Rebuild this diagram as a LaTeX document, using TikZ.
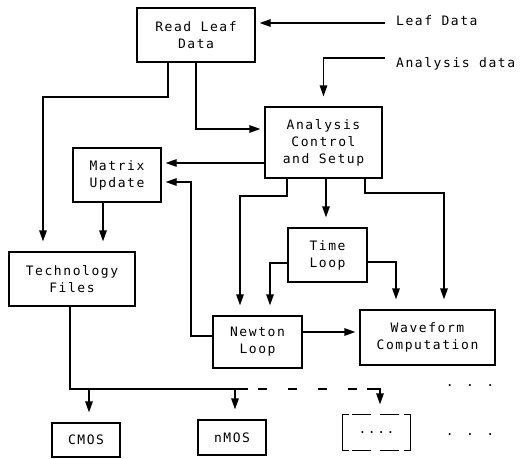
\documentclass[tikz,border=0pt]{standalone}
\usepackage{fontspec}
\newfontfamily\diafont[LetterSpace=12]{DejaVu Sans Mono}
\usetikzlibrary{arrows.meta}
\begin{document}
\begin{tikzpicture}[x=1pt,y=-1pt,
  txt/.style={font=\diafont\fontsize{13}{17}\selectfont, inner sep=0pt},
  box/.style={txt, draw, line width=1.3pt, align=center},
  ln/.style={line width=1.3pt},
  arrh/.style={ln, -{Triangle[length=11pt,width=7.5pt]}, shorten >=4pt},
  arrv/.style={ln, -{Triangle[length=11pt,width=7.5pt]}, shorten >=10pt}]
\useasboundingbox (0,0) rectangle (522,458);
% boxes
\node[box,minimum width=118pt,minimum height=54pt] (read) at (196,35) {Read Leaf\\Data};
\node[box,minimum width=117pt,minimum height=71pt] (anal) at (323.5,142.5) {Analysis\\Control\\and Setup};
\node[box,minimum width=88pt,minimum height=54pt] (matrix) at (117,175) {Matrix\\Update};
\node[box,minimum width=79pt,minimum height=54pt] (time) at (327.5,255) {Time\\Loop};
\node[box,minimum width=126pt,minimum height=54pt] (tech) at (72,279) {Technology\\Files};
\node[box,minimum width=89pt,minimum height=52pt] (newton) at (257.5,342) {Newton\\Loop};
\node[box,minimum width=135pt,minimum height=55pt] (wave) at (427.5,337.5) {Waveform\\Computation};
\node[box,minimum width=68pt,minimum height=34pt] (cmos) at (86,440) {CMOS};
\node[box,minimum width=68pt,minimum height=35pt] (nmos) at (232,437.5) {nMOS};
\node[box,draw=none,minimum width=67pt,minimum height=35pt] (etc) at (376.5,432.5) {....};
\draw[ln] ([xshift=7pt]etc.north west) -- (etc.north west) -- (etc.south west) -- ([xshift=7pt]etc.south west);
\draw[ln] ([xshift=-7pt]etc.north east) -- (etc.north east) -- (etc.south east) -- ([xshift=-7pt]etc.south east);
\draw[ln,dash pattern=on 19pt off 9pt] ([xshift=10pt]etc.north west) -- ([xshift=-10pt]etc.north east);
\draw[ln,dash pattern=on 19pt off 9pt] ([xshift=10pt]etc.south west) -- ([xshift=-10pt]etc.south east);
% labels
\node[txt,anchor=base west] (leaf) at (396,25) {Leaf Data};
\node[txt,anchor=base west] (adata) at (396,67) {Analysis data};
\node[txt,anchor=base] (dots1) at (470,386) {. . .};
\node[txt,anchor=base] (dots2) at (470,435) {. . .};
% coordinates
\coordinate (lf) at (385,23);
\coordinate (ad) at (385,58);
\coordinate (t1) at (168,97);
\coordinate (t2) at (43,97);
\coordinate (am) at (0,163);
\coordinate (nm1) at (191,336);
\coordinate (nm2) at (191,182);
\coordinate (mt) at (103,0);
\coordinate (an1) at (287,196);
\coordinate (an2) at (240,196);
\coordinate (at) at (326,0);
\coordinate (aw1) at (365,193);
\coordinate (aw2) at (444,193);
\coordinate (tn) at (270,263);
\coordinate (tw) at (396,262);
\coordinate (nw) at (0,332);
\coordinate (b0) at (70,389);
\coordinate (b1) at (248,389);
\coordinate (b3) at (367,389);
\coordinate (b2) at (380,389);
\coordinate (cm) at (89,389);
\coordinate (nm) at (235,389);
% connectors
\draw[arrh] (lf) -- (lf -| read.east);
\draw[arrv] (ad) -| (anal.north);
\draw[arrh] (read.south) |- ([yshift=13.5pt]anal.west);
\draw[arrv] (read.south -| t1) -- (t1) -- (t2) -- (tech.north -| t2);
\draw[arrh] (anal.west |- am) -- (matrix.east |- am);
\draw[arrh] (newton.west |- nm1) -- (nm1) -- (nm2) -- (matrix.east |- nm2);
\draw[arrv] (matrix.south -| mt) -- (tech.north -| mt);
\draw[arrv] (anal.south -| an1) -- (an1) -- (an2) -- (newton.north -| an2);
\draw[arrv] (anal.south -| at) -- (time.north -| at);
\draw[arrv] (anal.south -| aw1) -- (aw1) -- (aw2) -- (wave.north -| aw2);
\draw[arrv] (time.west |- tn) -- (tn) -- (newton.north -| tn);
\draw[arrv] (time.east |- tw) -- (tw) -- (wave.north -| tw);
\draw[arrh] (newton.east |- nw) -- (wave.west |- nw);
\draw[ln] (tech.south -| b0) -- (b0) -- (b1);
\draw[ln,dash pattern=on 9pt off 21pt,dash phase=20pt] (b1) -- (b3);
\draw[arrv] (b3) -- (b2) -- (etc.north -| b2);
\draw[arrv] (cm) -- (cmos.north -| cm);
\draw[arrv] (nm) -- (nmos.north -| nm);
\end{tikzpicture}
\end{document}
